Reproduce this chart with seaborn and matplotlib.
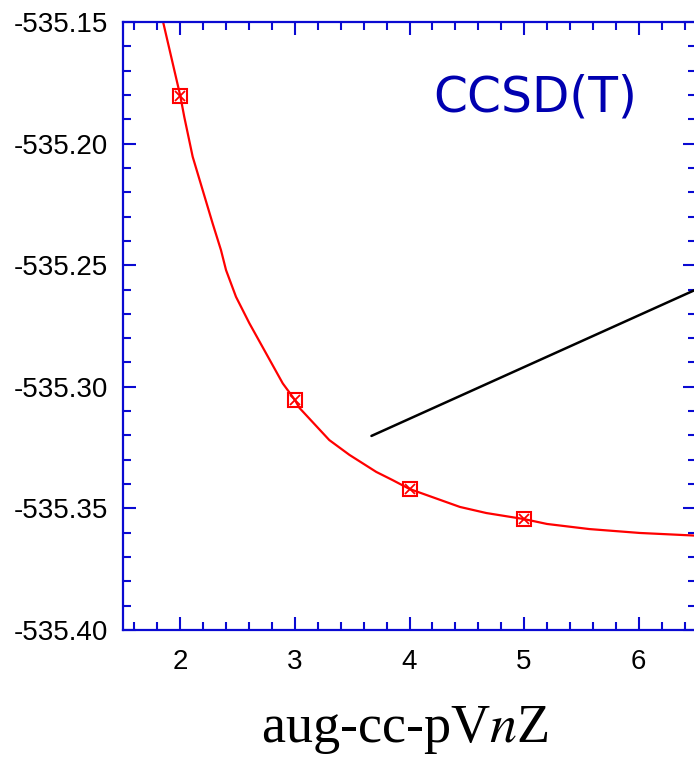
import matplotlib
matplotlib.use("Agg")
import matplotlib.pyplot as plt
from matplotlib.ticker import MultipleLocator
import seaborn as sns
import pandas as pd

# computed energies for n = 2..5
basis_n = [2, 3, 4, 5]
energy = [-535.1804, -535.3054, -535.3420, -535.3544]

# fitted extrapolation curve
curve_n = [1.85, 2.0, 2.035, 2.108, 2.195, 2.282, 2.355, 2.399, 2.486, 2.603, 2.748, 2.894,
           3.0, 3.04, 3.30, 3.476, 3.71, 3.85, 4.0, 4.44, 4.67, 5.0, 5.2, 5.57, 6.01, 6.5]
curve_e = [-535.150, -535.1804, -535.1891, -535.2054, -535.2191, -535.2328, -535.2438,
           -535.2520, -535.2630, -535.2739, -535.2862, -535.2986, -535.3054, -535.3087,
           -535.3219, -535.3280, -535.3350, -535.3383, -535.3420, -535.3494, -535.3519,
           -535.3544, -535.3564, -535.3585, -535.3601, -535.3612]

# pointer line
pointer_n = [3.668, 6.5]
pointer_e = [-535.3202, -535.2600]

sns.set_style("white")
plt.rcParams["font.family"] = ["Liberation Sans", "DejaVu Sans"]
plt.rcParams["mathtext.fontset"] = "stix"

blue = "#0a0ad2"

fig = plt.figure(figsize=(6.94, 7.62), dpi=100)
ax = fig.add_axes([123 / 694, 1 - 630 / 762, (696 - 123) / 694, (630 - 22) / 762])

df_curve = pd.DataFrame({"n": curve_n, "E": curve_e})
sns.lineplot(data=df_curve, x="n", y="E", color="red", linewidth=1.6, sort=False,
             estimator=None, ax=ax)
ax.plot(basis_n, energy, linestyle="none", marker="s", markersize=9.5, markerfacecolor="none",
        markeredgecolor="red", markeredgewidth=1.5)
ax.plot(basis_n, energy, linestyle="none", marker="x", markersize=6.5,
        markeredgecolor="red", markeredgewidth=1.3)
ax.plot(pointer_n, pointer_e, color="black", linewidth=1.8)

ax.text(0.542, 0.876, "CCSD(T)", transform=ax.transAxes, color="#0000b0",
        fontsize=35, family="DejaVu Sans", va="center", ha="left")

ax.set_xlim(1.5, 6.5)
ax.set_ylim(-535.40, -535.15)
ax.xaxis.set_major_locator(MultipleLocator(1))
ax.xaxis.set_minor_locator(MultipleLocator(0.2))
ax.yaxis.set_major_locator(MultipleLocator(0.05))
ax.yaxis.set_minor_locator(MultipleLocator(0.01))
ax.yaxis.set_major_formatter(matplotlib.ticker.FormatStrFormatter("%.2f"))

for s in ax.spines.values():
    s.set_color(blue)
    s.set_linewidth(1.6)
ax.tick_params(which="both", direction="in", top=True, right=True, bottom=True, left=True,
               color=blue, width=1.5, labelsize=20, labelcolor="black")
ax.tick_params(which="major", length=9.5)
ax.tick_params(which="minor", length=5.5)
ax.tick_params(axis="y", pad=11)
ax.tick_params(axis="x", which="both", pad=14)

ax.set_ylabel("")
ax.set_xlabel("aug-cc-pV$\\mathit{n}$Z", family="Liberation Serif", fontsize=39, color="black")
ax.xaxis.set_label_coords(0.491, -0.165)
ax.xaxis.label.set_va("center")

fig.savefig("out.png", dpi=100)
